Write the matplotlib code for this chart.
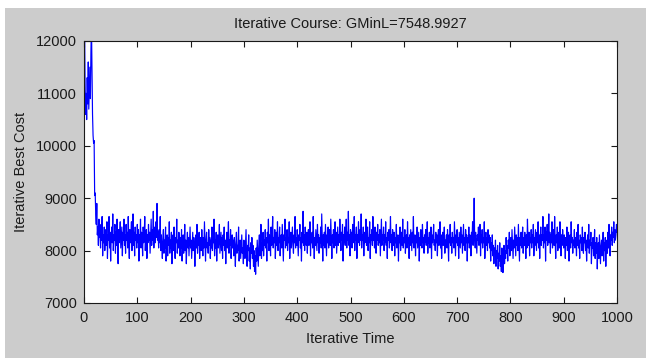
import numpy as np
import matplotlib
matplotlib.use("Agg")
import matplotlib.pyplot as plt
from matplotlib.patches import Rectangle

plt.rcParams['font.family'] = ['Liberation Sans', 'DejaVu Sans']

title_text = "Iterative Course: GMinL=7548.9927"
x_label = "Iterative Time"
y_label = "Iterative Best Cost"
x_ticks = [0, 100, 200, 300, 400, 500, 600, 700, 800, 900, 1000]
y_ticks = [7000, 8000, 9000, 10000, 11000, 12000]

# early phase (iterations 1-40)
cost_early = [
    12400, 11200, 10600, 11000, 10500, 11300, 10800, 11600, 10700, 11100,
    11500, 10900, 11800, 12300, 11400, 10600, 10200, 10050, 10100, 9050,
    9100, 8700, 8500, 8900, 8300, 8450, 8100, 8600, 8250, 8350,
    8050, 8500, 8200, 8650, 7900, 8300, 8150, 8450, 8000, 8250,
]

# iterations 41-300
cost_mid1 = [
    8400, 8100, 8550, 7850, 8300, 8200, 8650, 8050, 8350, 7800, 8250, 8450, 8150, 8700, 8000, 8300, 8200, 8500, 7950, 8350,
    8100, 8600, 8250, 7750, 8400, 8150, 8300, 8550, 8050, 8250, 8450, 7900, 8350, 8200, 8600, 8100, 8300, 7950, 8500, 8200,
    8350, 8050, 8650, 8200, 7850, 8400, 8150, 8300, 8550, 8000, 8250, 8700, 8100, 8350, 7900, 8450, 8200, 8300, 8050, 8500,
    8150, 8400, 7800, 8300, 8200, 8600, 8050, 8350, 8250, 7900, 8450, 8150, 8300, 8650, 8000, 8250, 8400, 7850, 8300, 8150,
    8500, 8200, 8350, 7950, 8250, 8600, 8100, 8400, 8200, 8750, 8050, 8300, 8450, 8150, 8550, 8250, 8900, 8200, 8350, 8050,
    8400, 8150, 8650, 8000, 8300, 8100, 7850, 8250, 8400, 7950, 8200, 8050, 8450, 7800, 8150, 8300, 7900, 8250, 8100, 8550,
    7950, 8200, 8050, 8350, 7750, 8150, 8300, 8000, 8450, 8100, 7850, 8250, 8150, 8600, 7950, 8200, 8050, 8350, 8150, 7900,
    8250, 8050, 8400, 7800, 8150, 8300, 7950, 8100, 8500, 8000, 8200, 7750, 8150, 8350, 8050, 8250, 7900, 8150, 8450, 8050,
    8200, 7850, 8100, 8350, 8000, 8250, 8150, 7700, 8100, 8300, 8050, 8500, 7950, 8200, 8100, 8350, 7850, 8150, 8250, 8000,
    8400, 8100, 7900, 8250, 8050, 8550, 8150, 7800, 8200, 8350, 8050, 8150, 7950, 8400, 8100, 8250, 7850, 8200, 8050, 8450,
    8000, 8250, 8150, 8600, 7900, 8200, 8050, 8350, 7800, 8150, 8300, 8050, 8200, 8500, 7950, 8150, 8350, 8000, 8250, 7850,
    8300, 8100, 8450, 8000, 8200, 7750, 8150, 8350, 8050, 8250, 8550, 7950, 8200, 8100, 8400, 7850, 8150, 8300, 8050, 8200,
    7900, 8250, 8050, 7700, 8150, 8350, 7950, 8100, 8000, 8450, 7800, 8050, 8200, 7850, 8100, 8300, 7950, 8050, 7750, 8200,
]

# iterations 301-640
cost_mid2 = [
    8000, 7850, 8150, 8400, 7900, 7700, 8100, 8000, 8300, 7800, 8050, 7650, 8150, 7950, 8250, 7850, 8100, 7700, 8000, 7600,
    7900, 7548.9927, 8050, 7800, 8200, 7950, 7700, 8100, 8300, 7900, 8050, 8500, 7850, 8150, 8000, 8350, 7900, 8200, 8100, 8400,
    8050, 8250, 7800, 8350, 8150, 8600, 8000, 8300, 8200, 7900, 8450, 8100, 8300, 8650, 8050, 8250, 8150, 8400, 7850, 8200,
    8350, 8100, 8550, 8000, 8250, 8150, 8450, 7900, 8200, 8300, 8050, 8500, 8150, 7800, 8300, 8200, 8600, 8050, 8250, 8100,
    8400, 8000, 8250, 8150, 8550, 7850, 8200, 8350, 8050, 8250, 8450, 8100, 7950, 8300, 8150, 8650, 8050, 8250, 8100, 8400,
    8150, 7900, 8300, 8200, 8500, 8050, 8250, 7800, 8350, 8150, 8750, 8100, 8300, 8000, 8450, 8200, 8100, 8350, 7950, 8250,
    8400, 8100, 8200, 8550, 7900, 8300, 8150, 8350, 8050, 8650, 8200, 7850, 8250, 8100, 8400, 8200, 8000, 8500, 8150, 8300,
    7950, 8250, 8150, 8450, 8050, 8700, 8200, 7800, 8300, 8100, 8350, 8050, 8500, 8200, 7900, 8300, 8150, 8450, 8050, 8250,
    8400, 8100, 8600, 8200, 7850, 8300, 8150, 8400, 8050, 8250, 8550, 8100, 8350, 7950, 8200, 8450, 8100, 8300, 8150, 8600,
    8250, 8000, 8350, 8200, 8500, 7800, 8300, 8150, 8450, 8100, 8250, 8600, 8050, 8350, 8200, 8750, 8100, 8300, 7900, 8400,
    8200, 8350, 8050, 8500, 8250, 8150, 8650, 8000, 8300, 8200, 8450, 7850, 8300, 8150, 8550, 8250, 8100, 8400, 8200, 8700,
    8050, 8300, 8200, 8450, 7900, 8350, 8150, 8250, 8600, 8100, 8300, 8450, 8000, 8250, 8150, 8550, 7850, 8300, 8200, 8400,
    8100, 8650, 8200, 8300, 8050, 8450, 8250, 7950, 8350, 8200, 8500, 8100, 8300, 8150, 8400, 7900, 8250, 8600, 8100, 8300,
    8200, 8450, 8000, 8300, 8150, 8550, 8100, 8250, 7850, 8350, 8200, 8400, 8050, 8250, 8650, 8150, 8300, 8000, 8400, 8200,
    8100, 8350, 7900, 8250, 8150, 8500, 8050, 8200, 8300, 7800, 8250, 8150, 8450, 8000, 8200, 8350, 8100, 8600, 8050, 8250,
    8150, 8400, 7950, 8200, 8300, 8050, 8550, 8150, 8250, 7850, 8300, 8100, 8400, 8200, 8000, 8350, 8150, 8650, 8050, 8200,
    8300, 7900, 8250, 8150, 8450, 8050, 8200, 8350, 7800, 8250, 8100, 8400, 8200, 8050, 8500, 8150, 8250, 7950, 8300, 8150,
]

# iterations 641-1000
cost_late = [
    8400, 8100, 8200, 8550, 7950, 8250, 8150, 8350, 8050, 8200, 8450, 7850, 8300, 8150, 8250, 8500, 8100, 8200, 8000, 8350,
    8150, 8300, 7900, 8250, 8400, 8100, 8200, 8550, 8050, 8300, 7850, 8200, 8350, 8100, 8250, 8450, 7950, 8200, 8150, 8300,
    8050, 8400, 8200, 7800, 8300, 8150, 8500, 8100, 8250, 7950, 8350, 8150, 8250, 8050, 8550, 8200, 7900, 8300, 8150, 8400,
    8100, 8250, 7850, 8350, 8200, 8050, 8450, 8150, 8300, 7950, 8200, 8500, 8100, 8250, 8000, 8400, 8150, 8300, 7800, 8250,
    8150, 8450, 8050, 8300, 8200, 7900, 8350, 8150, 8550, 8100, 8250, 9000, 8200, 8050, 8350, 8150, 7950, 8300, 8200, 8450,
    8100, 8250, 8500, 7900, 8300, 8150, 8400, 8050, 8250, 8150, 8550, 7850, 8200, 8350, 8100, 8250, 8000, 8400, 8150, 8300,
    8050, 8250, 7800, 8150, 8000, 8300, 7900, 8100, 7750, 8050, 7950, 8200, 7700, 8000, 7850, 8100, 7650, 7950, 7800, 8150,
    7700, 7900, 7600, 8050, 7850, 7580, 7950, 8100, 7750, 8000, 7850, 8250, 7950, 8100, 7800, 8200, 8050, 8350, 7900, 8150,
    8250, 8000, 8400, 8100, 7850, 8200, 8050, 8450, 8150, 7900, 8300, 8100, 8250, 8000, 8500, 8150, 7800, 8250, 8100, 8350,
    8050, 8200, 8450, 7950, 8250, 8100, 8350, 8150, 7850, 8300, 8050, 8600, 8200, 8100, 8350, 7900, 8250, 8150, 8400, 8050,
    8300, 8150, 8500, 7900, 8250, 8100, 8400, 8200, 8000, 8350, 8150, 8550, 8050, 8300, 7850, 8250, 8450, 8100, 8300, 8200,
    8650, 8050, 8300, 8150, 8450, 7800, 8350, 8200, 8500, 8100, 8250, 8700, 8150, 8350, 7950, 8300, 8150, 8550, 8050, 8250,
    8400, 8100, 8650, 8200, 7850, 8300, 8150, 8450, 8000, 8250, 8350, 8050, 8550, 8150, 7900, 8300, 8100, 8400, 8200, 8050,
    8300, 8150, 7850, 8250, 8100, 8450, 8000, 8200, 8350, 7800, 8150, 8300, 8050, 8550, 8150, 8250, 7950, 8200, 8100, 8400,
    8050, 8250, 8150, 7900, 8350, 8100, 8500, 8050, 8200, 7850, 8300, 8150, 8250, 8000, 8450, 8100, 7950, 8250, 8150, 8350,
    8000, 8200, 7800, 8150, 8300, 8050, 8500, 7950, 8200, 8100, 8350, 7750, 8150, 8050, 8250, 7900, 8100, 8400, 7850, 8150,
    7950, 8250, 7650, 8050, 8150, 7850, 8300, 8000, 7750, 8100, 8200, 7900, 8050, 8350, 7800, 8150, 8000, 8250, 7700, 8100,
    8200, 7950, 8350, 8050, 8500, 8150, 7900, 8300, 8200, 8450, 8100, 8350, 8250, 8550, 8150, 8400, 8200, 8300, 8500, 8350,
]

cost = np.array(cost_early + cost_mid1 + cost_mid2 + cost_late, dtype=float)
iters = np.arange(1, len(cost) + 1)

W, H = 646, 358
fig = plt.figure(figsize=(W / 100, H / 100), dpi=100)
fig.patch.set_facecolor('white')
# grey window background (screenshot with thin white margin top/left)
fig.patches.append(Rectangle((5 / W, 0), 1, 1 - 8 / H, transform=fig.transFigure,
                             facecolor='#cccccc', edgecolor='none', zorder=-10))

ax = fig.add_axes([84 / W, (H - 303) / H, (617 - 84) / W, (303 - 41) / H])
ax.set_facecolor('white')
ax.plot(iters, cost, color='#0000ff', linewidth=0.85)

ax.set_xlim(0, 1000)
ax.set_ylim(7000, 12000)
ax.set_xticks(x_ticks)
ax.set_yticks(y_ticks)
ax.tick_params(direction='in', length=4, width=0.8, top=True, right=True,
               labelsize=10.5, colors='#1a1a1a')
ax.tick_params(axis='x', pad=6)
ax.tick_params(axis='y', pad=5)
for s in ax.spines.values():
    s.set_linewidth(0.8)
    s.set_color('#1a1a1a')

ax.set_title(title_text, fontsize=10.5, pad=9, color='#1a1a1a')
ax.set_xlabel(x_label, fontsize=10.5, labelpad=5, color='#1a1a1a')
ax.set_ylabel(y_label, fontsize=10.5, labelpad=6, color='#1a1a1a')

fig.savefig('out.png', dpi=100, facecolor=fig.get_facecolor())
